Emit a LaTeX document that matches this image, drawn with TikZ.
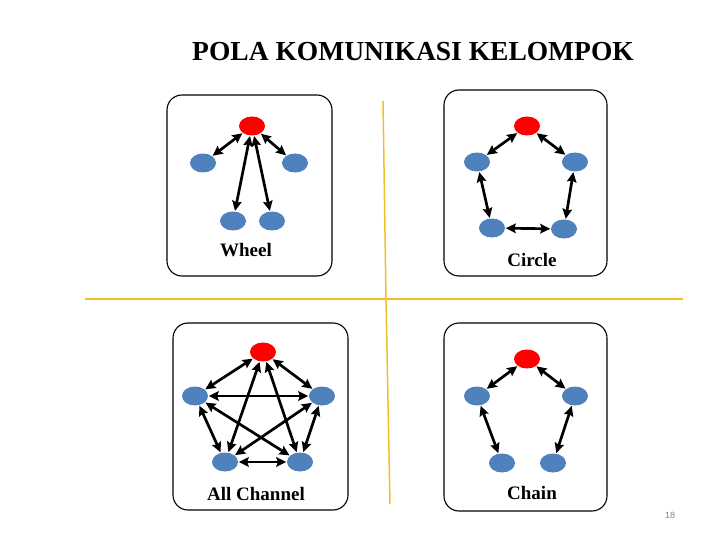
\documentclass[tikz,border=0pt]{standalone}
\usepackage{fontspec}
\setmainfont{Liberation Serif}
\setsansfont{Liberation Sans}
\usetikzlibrary{shapes.geometric, arrows.meta}
\definecolor{nodeblue}{RGB}{79,129,189}
\definecolor{lineyellow}{RGB}{240,192,40}
\tikzset{
  member/.style={ellipse, fill=nodeblue, minimum width=26pt, minimum height=19pt, inner sep=0pt},
  leader/.style={member, fill=red},
  panel/.style={draw, line width=1.1pt, rounded corners=15pt},
  patternlabel/.style={font=\fontsize{19}{22}\selectfont\bfseries},
  link/.style={<->, line width=2.7pt, shorten <=0.5pt, shorten >=0.5pt}
}
\begin{document}
\begin{tikzpicture}[x=1pt, y=-1pt, >={Stealth[length=10pt, width=9.5pt, inset=1.5pt]}]
	\useasboundingbox (0,0) rectangle (720,540);
	\node (title) at (413,52) {\fontsize{27.5}{32}\selectfont\bfseries POLA KOMUNIKASI KELOMPOK};
	\node[font=\sffamily\fontsize{9}{11}\selectfont, text=gray] (page) at (670,515) {18};
	% dividing lines
	\draw[lineyellow, line width=1.5pt] (383,101) -- (386,299) -- (390,504);
	\draw[lineyellow, line width=1.5pt] (85,299) -- (683,299);
	% panels
	\draw[panel] (167,95) rectangle (332,276);
	\draw[panel] (444,90) rectangle (607,276);
	\draw[panel] (173,323) rectangle (348,510);
	\draw[panel] (444,323) rectangle (607,511);
	% wheel
	\node[leader] (w0) at (252,126) {};
	\node[member] (w1) at (203,163) {};
	\node[member] (w2) at (295,163) {};
	\node[member] (w3) at (233,221) {};
	\node[member] (w4) at (272,221) {};
	\node[patternlabel] (wl) at (246,250) {Wheel};
	\draw[link] (w0) -- (w1);
	\draw[link] (w0) -- (w2);
	\draw[link] (w0) -- (w3);
	\draw[link] (w0) -- (w4);
	% circle
	\node[leader] (c0) at (527,126) {};
	\node[member] (c1) at (477,162) {};
	\node[member] (c2) at (575,162) {};
	\node[member] (c3) at (492,228) {};
	\node[member] (c4) at (564,229) {};
	\node[patternlabel] (cl) at (532,260) {Circle};
	\draw[link] (c0) -- (c1);
	\draw[link] (c0) -- (c2);
	\draw[link] (c1) -- (c3);
	\draw[link] (c2) -- (c4);
	\draw[link] (c3) -- (c4);
	% all channel
	\node[leader] (a0) at (263,352) {};
	\node[member] (a1) at (195,396) {};
	\node[member] (a2) at (322,396) {};
	\node[member] (a3) at (225,462) {};
	\node[member] (a4) at (300,462) {};
	\node[patternlabel] (al) at (256,494) {All Channel};
	\foreach \i/\j in {0/1,0/2,0/3,0/4,1/2,1/3,1/4,2/3,2/4,3/4}
		\draw[link] (a\i) -- (a\j);
	% chain
	\node[leader] (h0) at (527,359) {};
	\node[member] (h1) at (477,396) {};
	\node[member] (h2) at (575,396) {};
	\node[member] (h3) at (502,463) {};
	\node[member] (h4) at (553,463) {};
	\node[patternlabel] (hl) at (532,493) {Chain};
	\draw[link] (h0) -- (h1);
	\draw[link] (h0) -- (h2);
	\draw[link] (h1) -- (h3);
	\draw[link] (h2) -- (h4);
\end{tikzpicture}
\end{document}
